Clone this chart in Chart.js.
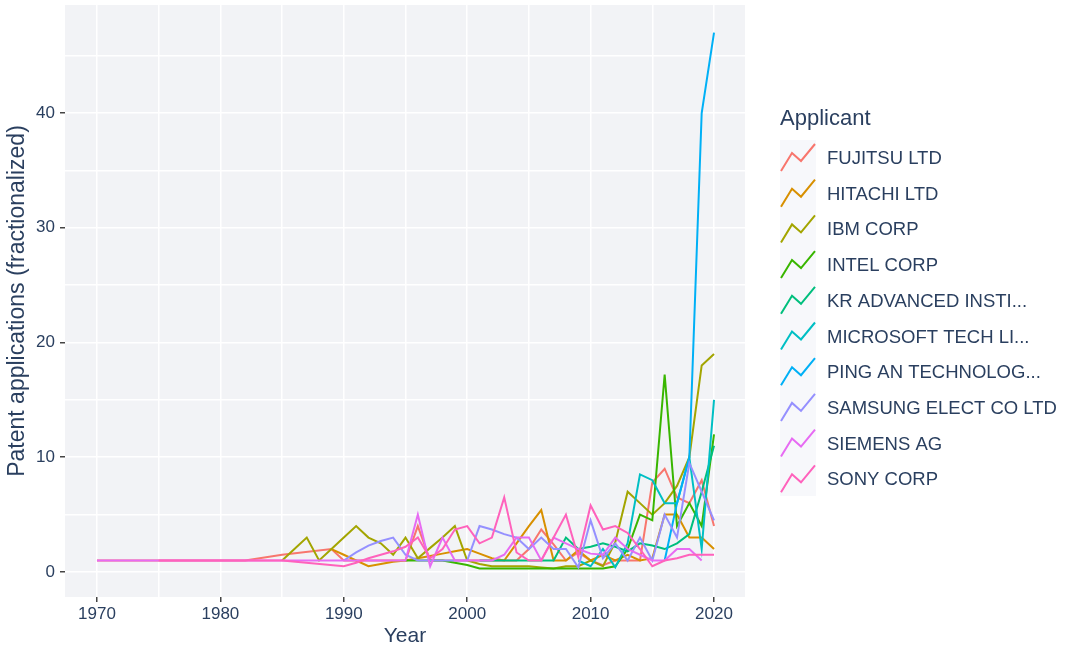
<!DOCTYPE html>
<html>
<head>
<meta charset="utf-8">
<script src="https://cdn.jsdelivr.net/npm/chart.js@4.4.0/dist/chart.umd.min.js"></script>
<style>
  body { margin: 0; background: #ffffff; }
  #wrap { width: 1066px; height: 649px; }
</style>
</head>
<body>
<div id="wrap"><canvas id="lineChart" width="1066" height="649"></canvas></div>
<script>
// values
var applicants = ['FUJITSU LTD', 'HITACHI LTD', 'IBM CORP', 'INTEL CORP', 'KR ADVANCED INSTI...',
  'MICROSOFT TECH LI...', 'PING AN TECHNOLOG...', 'SAMSUNG ELECT CO LTD', 'SIEMENS AG', 'SONY CORP'];
var colors = ['#F8766D', '#D89000', '#A3A500', '#39B600', '#00BF7D', '#00BFC4', '#00B0F6', '#9590FF', '#E76BF3', '#FF62BC'];

var fujitsuYears = [1970, 1975, 1982, 1985, 1989, 1990, 1995, 1996, 1997, 2000, 2003, 2004, 2005, 2006, 2007, 2008, 2009, 2010, 2011, 2012, 2013, 2014, 2015, 2016, 2017, 2018, 2019, 2020];
var fujitsuValues = [1, 1, 1, 1.5, 2, 1, 1, 4, 1, 1, 1, 1, 2, 3.7, 2.4, 1, 1.7, 1, 0.6, 1, 1, 1, 7.8, 9, 6.5, 6, 8, 4];

var hitachiYears = [1989, 1990, 1991, 1992, 1993, 1994, 1995, 1996, 1997, 1998, 1999, 2000, 2001, 2002, 2003, 2004, 2005, 2006, 2007, 2008, 2009, 2010, 2011, 2012, 2013, 2014, 2015, 2016, 2017, 2018, 2019, 2020];
var hitachiValues = [2, 1.5, 1, 0.5, 0.7, 0.9, 1, 1.2, 1.4, 1.6, 1.8, 2, 1.6, 1.2, 1, 2.5, 4, 5.4, 1, 1, 1.9, 1, 1.5, 1, 1.5, 1, 1.2, 5, 5, 3, 3, 2];

var ibmYears = [1985, 1986, 1987, 1988, 1989, 1990, 1991, 1992, 1993, 1994, 1995, 1996, 1997, 1998, 1999, 2000, 2001, 2002, 2003, 2004, 2005, 2006, 2007, 2008, 2009, 2010, 2011, 2012, 2013, 2014, 2015, 2016, 2017, 2018, 2019, 2020];
var ibmValues = [1, 2, 3, 1, 2, 3, 4, 3, 2.5, 1.5, 3, 1.2, 2.1, 3, 4, 1, 0.7, 0.5, 0.5, 0.5, 0.5, 0.4, 0.3, 0.5, 0.5, 1, 0.5, 2.6, 7, 6, 5, 6, 7.5, 10, 18, 19];

var intelYears = [1995, 1996, 1997, 1998, 1999, 2000, 2001, 2002, 2003, 2004, 2005, 2006, 2007, 2008, 2009, 2010, 2011, 2012, 2013, 2014, 2015, 2016, 2017, 2018, 2019, 2020];
var intelValues = [1, 1, 1, 1, 0.8, 0.6, 0.3, 0.3, 0.3, 0.3, 0.3, 0.3, 0.3, 0.3, 0.3, 0.3, 0.3, 0.5, 2, 5, 4.5, 17.2, 4, 6, 4, 12];

var krYears = [2001, 2002, 2003, 2004, 2005, 2006, 2007, 2008, 2009, 2010, 2011, 2012, 2013, 2014, 2015, 2016, 2017, 2018, 2019, 2020];
var krValues = [1, 1, 1, 1, 1, 1, 1, 3, 2, 2.2, 2.5, 2.2, 1.8, 2.5, 2.3, 2, 2.5, 3.3, 7, 11];

var microsoftYears = [2009, 2010, 2011, 2012, 2013, 2014, 2015, 2016, 2017, 2018, 2019, 2020];
var microsoftValues = [1, 0.5, 2, 0.4, 2.5, 8.5, 8, 6, 6, 10, 2, 15];

var pingAnYears = [2016, 2017, 2018, 2019, 2020];
var pingAnValues = [1, 6, 10, 40, 47];

var samsungYears = [1990, 1991, 1992, 1993, 1994, 1995, 1996, 1997, 1998, 1999, 2000, 2001, 2002, 2003, 2004, 2005, 2006, 2007, 2008, 2009, 2010, 2011, 2012, 2013, 2014, 2015, 2016, 2017, 2018, 2019, 2020];
var samsungValues = [1, 1.7, 2.3, 2.7, 3, 1.5, 1, 1, 1, 1, 1, 4, 3.7, 3.3, 3, 2, 3, 2, 2, 0.4, 4.5, 1.2, 2.5, 1, 3, 1, 5, 3, 9.5, 7, 4.5];

var siemensYears = [1970, 1980, 1990, 1995, 1996, 1997, 1998, 1999, 2000, 2001, 2002, 2003, 2004, 2005, 2006, 2007, 2008, 2009, 2010, 2011, 2012, 2013, 2014, 2015, 2016, 2017, 2018, 2019];
var siemensValues = [1, 1, 1, 1, 5, 0.5, 3, 1, 1, 1, 1, 1.5, 3, 3, 1, 3, 2.5, 2, 1.6, 1.5, 3, 2, 1.5, 1, 1, 2, 2, 1];

var sonyYears = [1975, 1985, 1990, 1991, 1992, 1993, 1994, 1995, 1996, 1997, 1998, 1999, 2000, 2001, 2002, 2003, 2004, 2005, 2006, 2007, 2008, 2009, 2010, 2011, 2012, 2013, 2014, 2015, 2016, 2017, 2018, 2019, 2020];
var sonyValues = [1, 1, 0.5, 0.8, 1.2, 1.5, 1.8, 2.2, 3, 1.2, 2, 3.7, 4, 2.5, 3, 6.5, 1.7, 1, 1, 3, 5, 1.3, 5.8, 3.7, 4, 3.4, 2, 0.5, 1, 1.2, 1.5, 1.5, 1.5];

var allYears = [fujitsuYears, hitachiYears, ibmYears, intelYears, krYears, microsoftYears, pingAnYears, samsungYears, siemensYears, sonyYears];
var allValues = [fujitsuValues, hitachiValues, ibmValues, intelValues, krValues, microsoftValues, pingAnValues, samsungValues, siemensValues, sonyValues];

var TEXT = '#2a3f5f';
var FONT = '"Liberation Sans", Arial, sans-serif';

function toPoints(years, values) {
  return years.map((y, i) => ({ x: y, y: values[i] }));
}

// later applicants are painted on top, like in the original plot
const datasets = applicants.map((name, i) => ({
  label: name,
  data: toPoints(allYears[i], allValues[i]),
  order: applicants.length - i,
  borderColor: colors[i],
  backgroundColor: colors[i],
  borderWidth: 2,
  pointRadius: 0,
  pointHoverRadius: 0,
  tension: 0,
  fill: false
}));

const plotBackground = {
  id: 'plotBackground',
  beforeDraw(chart) {
    const a = chart.chartArea;
    const c = chart.ctx;
    c.save();
    c.fillStyle = '#f2f3f6';
    c.fillRect(a.left, a.top, a.right - a.left, a.bottom - a.top);
    c.restore();
  }
};

const sideLegend = {
  id: 'sideLegend',
  afterDraw(chart) {
    const c = chart.ctx;
    c.save();
    c.fillStyle = TEXT;
    c.font = '22px ' + FONT;
    c.textBaseline = 'middle';
    c.textAlign = 'left';
    c.fillText('Applicant', 780, 119);
    c.fillStyle = '#f7f8fb';
    c.fillRect(780, 140, 36, 356);
    applicants.forEach((name, i) => {
      const cy = 158 + i * 35.7;
      c.strokeStyle = colors[i];
      c.lineWidth = 2;
      c.beginPath();
      c.moveTo(781, cy + 13);
      c.lineTo(792, cy - 5);
      c.lineTo(801, cy + 3);
      c.lineTo(815, cy - 14);
      c.stroke();
      c.fillStyle = TEXT;
      c.font = '18.5px ' + FONT;
      c.fillText(name, 827, cy + 1);
    });
    c.restore();
  }
};

function majorTickColor(c) {
  return (c.tick && c.tick.value % 10 === 0) ? '#444444' : 'rgba(0,0,0,0)';
}

const ctx = document.getElementById('lineChart').getContext('2d');
const chartLines = new Chart(ctx, {
  type: 'line',
  data: { datasets: datasets },
  options: {
    responsive: false,
    animation: false,
    layout: { padding: { top: 5, right: 321, left: 0, bottom: 0 } },
    plugins: {
      legend: { display: false },
      tooltip: { enabled: false }
    },
    scales: {
      x: {
        type: 'linear',
        min: 1967.41,
        max: 2022.51,
        afterFit: s => { s.height = 52; s.paddingLeft = 0; s.paddingRight = 0; },
        border: { display: false },
        grid: {
          color: '#ffffff',
          lineWidth: 1.5,
          tickLength: 5,
          tickWidth: 1.5,
          tickColor: majorTickColor
        },
        ticks: {
          stepSize: 5,
          includeBounds: false,
          maxRotation: 0,
          autoSkip: false,
          padding: 2,
          color: TEXT,
          font: { family: FONT, size: 17 },
          callback: v => (v % 10 === 0 ? String(v) : '')
        },
        title: {
          display: true,
          text: 'Year',
          color: TEXT,
          font: { family: FONT, size: 21 },
          padding: { top: 0, bottom: 0 }
        }
      },
      y: {
        min: -2.18,
        max: 49.41,
        afterFit: s => { s.width = 65; s.paddingTop = 0; s.paddingBottom = 0; },
        border: { display: false },
        grid: {
          color: '#ffffff',
          lineWidth: 1.5,
          tickLength: 5,
          tickWidth: 1.5,
          tickColor: majorTickColor
        },
        ticks: {
          stepSize: 5,
          includeBounds: false,
          autoSkip: false,
          padding: 5,
          color: TEXT,
          font: { family: FONT, size: 17 },
          callback: v => (v % 10 === 0 ? String(v) : '')
        },
        title: {
          display: true,
          text: 'Patent applications (fractionalized)',
          color: TEXT,
          font: { family: FONT, size: 23 },
          padding: { top: 4, bottom: 4 }
        }
      }
    }
  },
  plugins: [plotBackground, sideLegend]
});
</script>
</body>
</html>
